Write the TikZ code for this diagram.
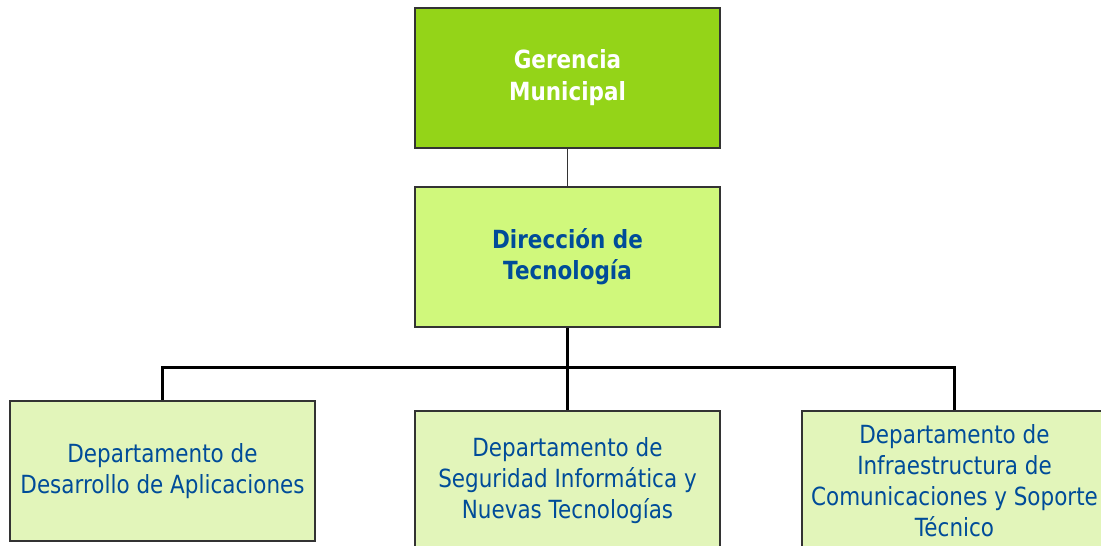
\documentclass[tikz,border=0pt]{standalone}
\usepackage{fontspec}
\setmainfont{DejaVu Sans}[FakeStretch=0.86]
\usepackage{tikz}
\definecolor{gerGreen}{HTML}{94D418}
\definecolor{dirGreen}{HTML}{D0F87C}
\definecolor{depGreen}{HTML}{E2F5BA}
\definecolor{orgBlue}{HTML}{004C99}
\definecolor{edgeGray}{HTML}{333333}
\tikzstyle{unit} = [draw=edgeGray, line width=2.6pt, minimum width=305pt, minimum height=140pt, align=center, inner sep=0pt, font=\fontsize{25}{31}\selectfont]
\tikzstyle{top} = [unit, fill=gerGreen, text=white, font=\bfseries\fontsize{25}{32}\selectfont]
\tikzstyle{dir} = [unit, fill=dirGreen, text=orgBlue, font=\bfseries\fontsize{25}{31}\selectfont]
\tikzstyle{dep} = [unit, fill=depGreen, text=orgBlue]
\tikzstyle{link} = [line width=3pt, black]

\begin{document}
\begin{tikzpicture}[yscale=-1, x=1pt, y=1pt]
			\useasboundingbox (0,0) rectangle (1101,546);
			\clip (0,0) rectangle (1101,546);
			\fill[white] (0,0) rectangle (1101,546);
			\node[top] (gerencia) at (567.5,78) {Gerencia\\Municipal};
			\node[dir] (direccion) at (567.5,257) {Dirección de\\Tecnología};
			\node[dep] (desarrollo) at (162.5,471) {Departamento de\\Desarrollo de Aplicaciones};
			\node[dep] (seguridad) at (567.5,481) {Departamento de\\Seguridad Informática y\\Nuevas Tecnologías};
			\node[dep] (infra) at (954.5,481) {Departamento de\\Infraestructura de\\Comunicaciones y Soporte\\Técnico};
			\coordinate (bus) at (567.5,367);
			\draw[edgeGray, line width=1.3pt] (gerencia.south) -- (direccion.north);
			\draw[link] (direccion.south) -- (seguridad.north);
			\draw[link] (bus) -| (desarrollo.north);
			\draw[link] (bus) -| (infra.north);
		\end{tikzpicture}
\end{document}
